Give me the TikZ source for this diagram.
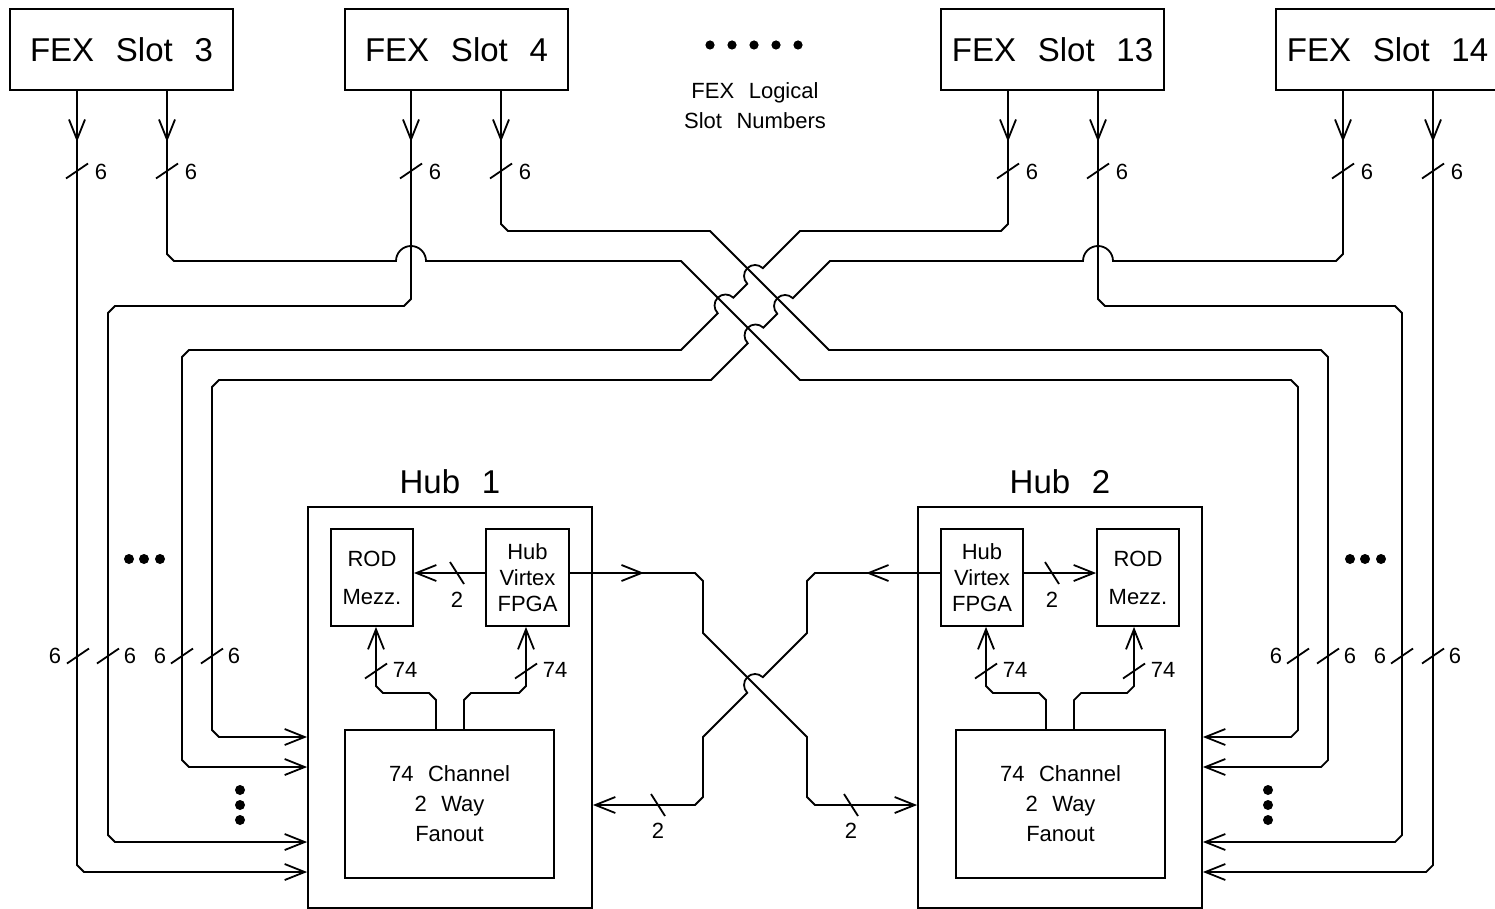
\documentclass[tikz,border=0pt]{standalone}
\usepackage{fontspec}
\setmainfont{Liberation Sans}
\usetikzlibrary{arrows.meta,decorations.markings}
\newcommand\vtk[2]{\draw (#1-11,#2+7.5) -- (#1+11,#2-7.5);}
\newcommand\htk[2]{\draw (#1-7,#2-11) -- (#1+7,#2+11);}
\newcommand\ws{\hspace{0.66em}}
\newcommand\bigfnt{\fontsize{33}{38}\selectfont}
\newcommand\smallfnt{\fontsize{22}{26}\selectfont}
\begin{document}
\begin{tikzpicture}[x=1pt,y=-1pt,line width=1.8pt,line join=miter,
  big/.style={font=\bigfnt},
  small/.style={font=\smallfnt},
  box/.style={draw,rectangle,inner sep=0pt,align=center},
  fex/.style={box,big,minimum width=223pt,minimum height=81pt},
  tip/.style={-{Straight Barb[length=20pt,width=16pt]}},
  midtip/.style={postaction={decorate,decoration={markings,
      mark=at position #1 with {\arrow{Straight Barb[length=20pt,width=16pt]}}}}},
]
\useasboundingbox (0,0) rectangle (1495,909);

% FEX slots
\node[fex] (s3)  at (121.5,49.5)  {FEX\ws Slot\ws 3};
\node[fex] (s4)  at (456.5,49.5)  {FEX\ws Slot\ws 4};
\node[fex] (s13) at (1052.5,49.5) {FEX\ws Slot\ws 13};
\node[fex] (s14) at (1387.5,49.5) {FEX\ws Slot\ws 14};

\foreach \d in {710,732,754,776,798} \fill (\d,45) circle[radius=4.6pt];
\node[small,align=center] (lg) at (755,106) {FEX\ws Logical\\[4pt]Slot\ws Numbers};

% Hubs
\node[box,minimum width=284pt,minimum height=401pt] (hub1) at (450,707.5) {};
\node[box,minimum width=284pt,minimum height=401pt] (hub2) at (1060,707.5) {};
\node[big] (hub1lab) at (450,482) {Hub\ws 1};
\node[big] (hub2lab) at (1060,482) {Hub\ws 2};

\node[box,small,minimum width=82pt,minimum height=97pt] (r1) at (372,577.5) {ROD\\[12pt]Mezz.};
\node[box,small,minimum width=83pt,minimum height=97pt] (fp1) at (527.5,577.5) {Hub\\Virtex\\FPGA};
\node[box,small,minimum width=209pt,minimum height=148pt] (f1) at (449.5,804) {74\ws Channel\\[4pt]2\ws Way\\[4pt]Fanout};

\node[box,small,minimum width=82pt,minimum height=97pt] (fp2) at (982,577.5) {Hub\\Virtex\\FPGA};
\node[box,small,minimum width=82pt,minimum height=97pt] (r2) at (1138,577.5) {ROD\\[12pt]Mezz.};
\node[box,small,minimum width=209pt,minimum height=148pt] (f2) at (1060.5,804) {74\ws Channel\\[4pt]2\ws Way\\[4pt]Fanout};

% FEX to hub connections
\draw[tip,midtip=51pt] ([xshift=-44.5pt]s3.south) -- (77,865) -- (84,872) -- (hub1.west |- 0,872);
\draw[tip,midtip=51pt] ([xshift=45.5pt]s3.south) -- (167,254) -- (174,261) -- (396,261)
  arc[start angle=180,end angle=0,radius=15pt] -- (681,261) -- (800,380) -- (1291,380)
  -- (1298,387) -- (1298,730) -- (1291,737) -- (hub2.east |- 0,737);
\draw[tip,midtip=51pt] ([xshift=44.5pt]s4.south) -- (501,224) -- (508,231) -- (710,231) -- (829,350)
  -- (1321,350) -- (1328,357) -- (1328,760) -- (1321,767) -- (hub2.east |- 0,767);
\draw[tip,midtip=51pt] ([xshift=-45.5pt]s4.south) -- (411,299) -- (404,306) -- (115,306) -- (108,313)
  -- (108,835) -- (115,842) -- (hub1.west |- 0,842);
\draw[tip,midtip=51pt] ([xshift=-44.5pt]s13.south) -- (1008,224) -- (1001,231) -- (800,231)
  -- (762.8,268.2) arc[start angle=45,end angle=225,radius=11pt]
  -- (733.3,297.7) arc[start angle=45,end angle=225,radius=11pt]
  -- (681,350) -- (189,350) -- (182,357) -- (182,760) -- (189,767) -- (hub1.west |- 0,767);
\draw[tip,midtip=51pt] ([xshift=45.5pt]s13.south) -- (1098,299) -- (1105,306) -- (1395,306) -- (1402,313)
  -- (1402,835) -- (1395,842) -- (hub2.east |- 0,842);
\draw[tip,midtip=51pt] ([xshift=-44.5pt]s14.south) -- (1343,254) -- (1336,261) -- (1113,261)
  arc[start angle=0,end angle=180,radius=15pt] -- (830,261)
  -- (792.8,298.2) arc[start angle=45,end angle=225,radius=11pt]
  -- (763.3,327.7) arc[start angle=45,end angle=225,radius=11pt]
  -- (711,380) -- (219,380) -- (212,387) -- (212,730) -- (219,737) -- (hub1.west |- 0,737);
\draw[tip,midtip=51pt] ([xshift=45.5pt]s14.south) -- (1433,865) -- (1426,872) -- (hub2.east |- 0,872);

% hub to hub
\draw[tip,midtip=74pt] ([yshift=4.5pt]fp1.east) -- (695,573) -- (703,581) -- (703,633) -- (807,737)
  -- (807,797) -- (815,805) -- (hub2.west |- 0,805);
\draw[tip,midtip=74pt] ([yshift=4.5pt]fp2.west) -- (815,573) -- (807,581) -- (807,633)
  -- (762.8,677.2) arc[start angle=45,end angle=225,radius=11pt]
  -- (703,737) -- (703,797) -- (695,805) -- (hub1.east |- 0,805);

% internal hub connections
\draw[tip] ([yshift=4.5pt]fp1.west) -- ([yshift=4.5pt]r1.east);
\draw[tip] ([yshift=4.5pt]fp2.east) -- ([yshift=4.5pt]r2.west);
\draw[tip] ([xshift=-13.5pt]f1.north) -- (436,700) -- (429,693) -- (383,693) -- (376,686) -- (r1.south -| 376,0);
\draw[tip] ([xshift=14.5pt]f1.north) -- (464,700) -- (471,693) -- (519,693) -- (526,686) -- (fp1.south -| 526,0);
\draw[tip] ([xshift=-14.5pt]f2.north) -- (1046,700) -- (1039,693) -- (993,693) -- (986,686) -- (fp2.south -| 986,0);
\draw[tip] ([xshift=13.5pt]f2.north) -- (1074,700) -- (1081,693) -- (1127,693) -- (1134,686) -- (r2.south -| 1134,0);

% bus-width ticks and labels
\foreach \x [count=\i] in {77,167,411,501,1008,1098,1343,1433} {
  \vtk{\x}{171}
  \node[small] (top\i) at (\x+24,172) {6};
}
\foreach \x/\lx [count=\i] in {78/55,108/130,182/160,212/234,1298/1276,1328/1350,1402/1380,1433/1455} {
  \vtk{\x}{656}
  \node[small] (bot\i) at (\lx,656) {6};
}
\foreach \x [count=\i] in {376,526,986,1134} {
  \vtk{\x}{671}
  \node[small] (ch\i) at (\x+29,670) {74};
}
\foreach \x/\y/\ly [count=\i] in {457/573/600,1052/573/600,658/805/831,851/805/831} {
  \htk{\x}{\y}
  \node[small] (two\i) at (\x,\ly) {2};
}

% ellipsis dots
\foreach \d in {129,144,160,1350,1365,1381} \fill (\d,559) circle[radius=5pt];
\foreach \d in {790,805,820} { \fill (240,\d) circle[radius=5pt]; \fill (1268,\d) circle[radius=5pt]; }
\end{tikzpicture}
\end{document}
